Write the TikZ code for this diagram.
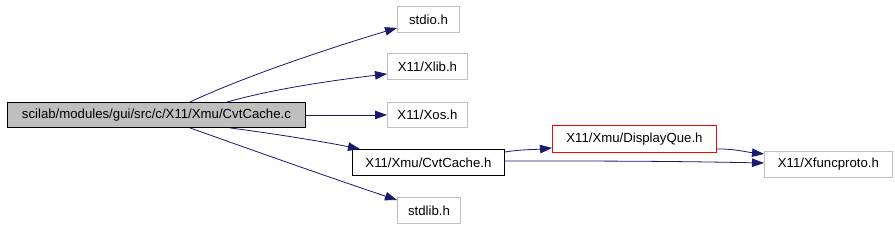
\documentclass[tikz,border=0pt]{standalone}
\usepackage{fontspec}
\setmainfont{Liberation Sans}
\usetikzlibrary{arrows.meta}
\definecolor{edgeblue}{HTML}{191970}
\definecolor{boxgray}{HTML}{BFBFBF}
\tikzset{
  filebox/.style={draw=boxgray, line width=0.9pt, inner sep=0pt, anchor=north west, font=\fontsize{13.2}{15}\selectfont},
  mainbox/.style={filebox, draw=black, fill=boxgray},
  blackbox/.style={filebox, draw=black},
  redbox/.style={filebox, draw=red},
  dep/.style={draw=edgeblue, line width=0.8pt, -{Triangle[length=12pt,width=8.5pt]}, color=edgeblue}
}
\begin{document}
\begin{tikzpicture}[x=1pt,y=-1pt]
\useasboundingbox (0,0) rectangle (895,226);
\node[mainbox, minimum width=298pt, minimum height=25pt] (main) at (7,102) {scilab/modules/gui/src/c/X11/Xmu/CvtCache.c};
\node[filebox, minimum width=62pt, minimum height=26pt] (stdio) at (397,6) {stdio.h};
\node[filebox, minimum width=80pt, minimum height=26pt] (xlib) at (387,53) {X11/Xlib.h};
\node[filebox, minimum width=80pt, minimum height=25pt] (xos) at (387,102) {X11/Xos.h};
\node[blackbox, minimum width=152pt, minimum height=26pt] (cvth) at (352,149) {X11/Xmu/CvtCache.h};
\node[filebox, minimum width=63pt, minimum height=26pt] (stdlib) at (397,197) {stdlib.h};
\node[redbox, minimum width=164pt, minimum height=27pt] (dq) at (552,125) {X11/Xmu/DisplayQue.h};
\node[filebox, minimum width=128pt, minimum height=26pt] (xf) at (764,151) {X11/Xfuncproto.h};

\draw[dep] ([xshift=183pt]main.north west) .. controls +(60,-28) and +(-60,18) .. ([yshift=5pt]stdio.south west);
\draw[dep] ([xshift=220pt]main.north west) .. controls +(50,-14) and +(-50,6) .. ([yshift=6pt]xlib.south west);
\draw[dep] (main.east) -- (xos.west);
\draw[dep] ([xshift=223pt]main.south west) .. controls +(45,6) and +(-40,-8) .. ([xshift=8pt]cvth.north west);
\draw[dep] ([xshift=183pt]main.south west) .. controls +(70,25) and +(-60,-20) .. ([yshift=-3pt]stdlib.north west);
\draw[dep] ([yshift=-3pt]cvth.north east) .. controls +(20,-3) and +(-20,2) .. ([yshift=5pt]dq.south west);
\draw[dep] ([yshift=4pt]dq.south east) .. controls +(18,0) and +(-18,-2) .. ([yshift=-3pt]xf.north west);
\draw[dep] ([yshift=-12pt]cvth.north east) .. controls +(100,0) and +(-100,-2) .. ([yshift=-12pt]xf.north west);
\end{tikzpicture}
\end{document}
